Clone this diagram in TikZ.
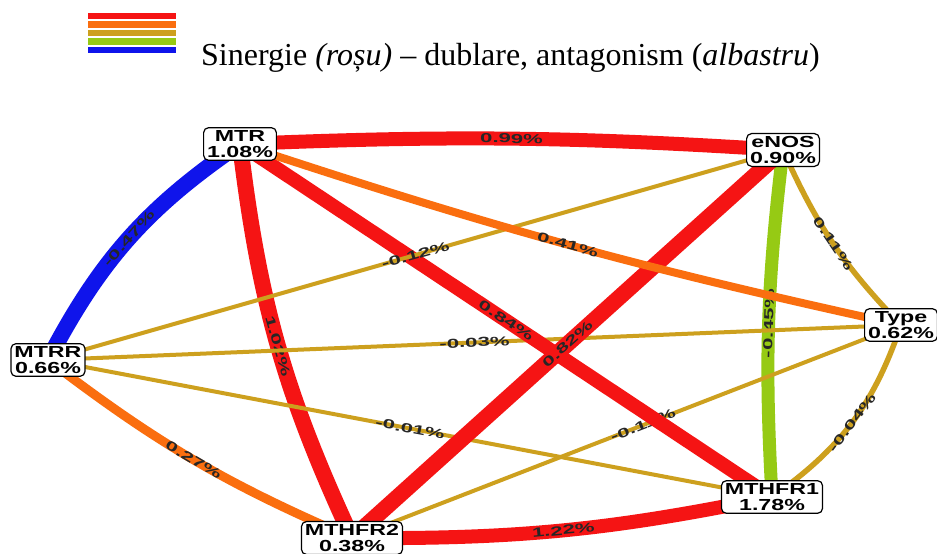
\documentclass[tikz,border=0pt]{standalone}
\usepackage{fontspec}
\setmainfont{Liberation Serif}
\newfontfamily\genefont{Liberation Sans}[FakeStretch=1.45]
\newfontfamily\valfont{Liberation Sans}[FakeStretch=1.7]
\definecolor{synred}{RGB}{245,20,20}
\definecolor{synorange}{RGB}{250,110,15}
\definecolor{midgold}{RGB}{205,160,30}
\definecolor{dubgreen}{RGB}{150,202,20}
\definecolor{antblue}{RGB}{15,20,235}
\pgfdeclarelayer{bg}
\pgfdeclarelayer{edges}
\pgfsetlayers{bg,edges,main}
\tikzset{
  gene/.style={draw=black, line width=1.2pt, fill=white, rounded corners=5pt,
    align=center, inner xsep=3.5pt, inner ysep=2.5pt,
    font=\genefont\bfseries\fontsize{16}{16.5}\selectfont},
  val/.style={font=\valfont\bfseries\fontsize{13}{13}\selectfont,
    text=black!85, sloped, inner sep=0pt, midway},
  link/.style={line cap=butt},
  legbar/.style={line width=6.5pt},
}
\begin{document}
\begin{tikzpicture}[x=1pt,y=1pt]
\begin{pgfonlayer}{bg}
  \fill[white] (0,0) rectangle (937,554);
\end{pgfonlayer}
\useasboundingbox (0,0) rectangle (937,554);

% legend
\draw[legbar, synred]    (88,538)   -- (176,538);
\draw[legbar, synorange] (88,529.5) -- (176,529.5);
\draw[legbar, midgold]   (88,521)   -- (176,521);
\draw[legbar, dubgreen]  (88,512.5) -- (176,512.5);
\draw[legbar, antblue]   (88,504)   -- (176,504);
\node[anchor=base west, inner sep=0pt, font=\fontsize{32}{32}\selectfont] (legtext) at (201,488)
  {Sinergie \textit{(roșu)} – dublare, antagonism (\textit{albastru})};

% genes
\node[gene] (MTR)    at (240,410) {MTR\\1.08\%};
\node[gene] (eNOS)   at (783,404) {eNOS\\0.90\%};
\node[gene] (MTRR)   at (48,194)  {MTRR\\0.66\%};
\node[gene] (Type)   at (901,229) {Type\\0.62\%};
\node[gene] (MTHFR1) at (772,57)  {MTHFR1\\1.78\%};
\node[gene] (MTHFR2) at (352,16)  {MTHFR2\\0.38\%};

% interactions
\begin{pgfonlayer}{edges}
\draw[link, line width=16pt, synred] (MTR.center) to[bend right=9] node[val]{1.02\%} (MTHFR2.center);
\draw[link, line width=16pt, antblue] (MTR.center) to[bend right=14] node[val]{-0.47\%} (MTRR.center);
\draw[link, line width=13pt, dubgreen] (eNOS.center) to[bend right=5] node[val]{-0.45\%} (MTHFR1.center);
\draw[link, line width=4pt, midgold] (MTRR.center) -- node[val]{-0.03\%} (Type.center);
\draw[link, line width=4pt, midgold] (MTRR.center) -- node[val]{-0.01\%} (MTHFR1.center);
\draw[link, line width=4pt, midgold] (Type.center) -- node[val, pos=0.47]{-0.11\%} (MTHFR2.center);
\draw[link, line width=14pt, synred] (MTR.center) -- node[val]{0.84\%} (MTHFR1.center);
\draw[link, line width=16pt, synred] (eNOS.center) -- node[val]{0.82\%} (MTHFR2.center);
\draw[link, line width=4pt, midgold] (eNOS.center) -- node[val]{-0.12\%} (MTRR.center);
\draw[link, line width=8pt, synorange] (MTR.center) to[bend right=3] node[val]{0.41\%} (Type.center);
\draw[link, line width=9pt, synorange] (MTRR.center) to[bend right=7] node[val]{0.27\%} (MTHFR2.center);
\draw[link, line width=14pt, synred] (MTR.center) to[bend left=3] node[val]{0.99\%} (eNOS.center);
\draw[link, line width=14pt, synred] (MTHFR2.center) to[bend right=6] node[val]{1.22\%} (MTHFR1.center);
\draw[link, line width=5.5pt, midgold] (eNOS.center) to[bend right=10] node[val]{0.11\%} (Type.center);
\draw[link, line width=5.5pt, midgold] (Type.center) to[bend left=18] node[val]{-0.04\%} (MTHFR1.center);
\end{pgfonlayer}
\end{tikzpicture}
\end{document}
